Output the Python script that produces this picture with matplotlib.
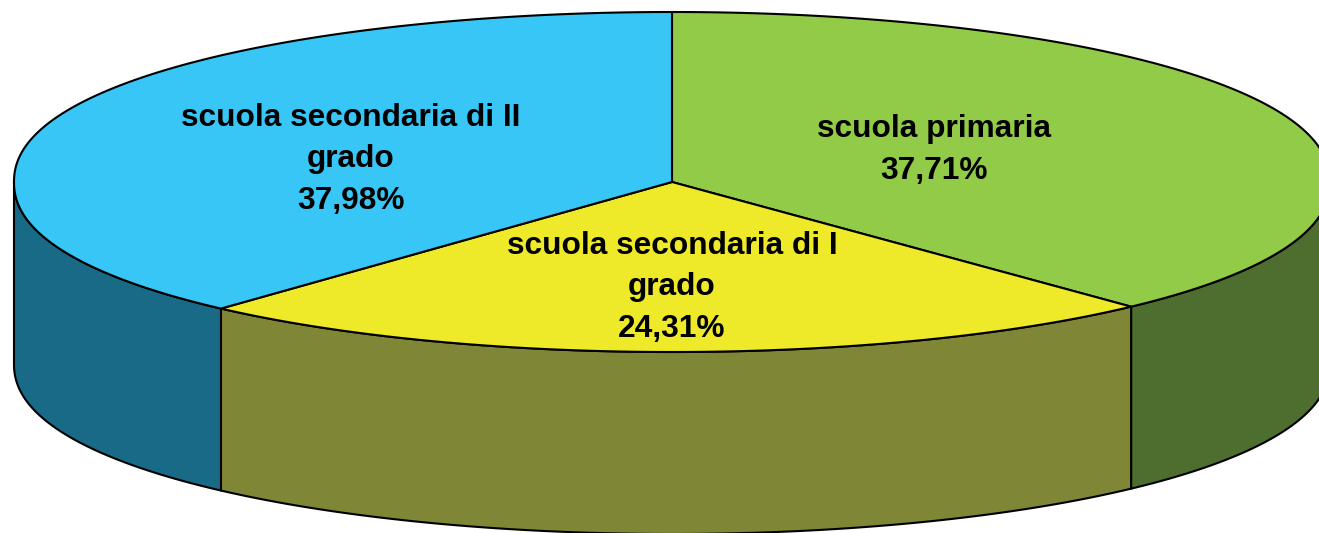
import numpy as np
from matplotlib import pyplot as plt
from matplotlib.patches import Polygon

# slice data, clockwise from 12 o'clock
labels = ["scuola primaria", "scuola secondaria di I\ngrado", "scuola secondaria di II\ngrado"]
values = [37.71, 24.31, 37.98]
value_labels = ["37,71%", "24,31%", "37,98%"]
top_colors = ["#92CB47", "#EEE929", "#38C6F6"]
side_colors = ["#4D6E2F", "#7F8636", "#186A86"]
label_pos = [(934, 150), (672, 287), (351, 159)]

# pie geometry in image pixels
cx, cy = 672, 182
rx, ry = 658, 170
depth = 182
# the outline of the original is a bit fuller than a true ellipse
fullness = 0.93


def ellipse_pts(a0, a1, y0=0):
    # angles in radians, 0 = east, growing towards the bottom of the image
    n = max(2, int(abs(a1 - a0) * 120))
    t = np.linspace(a0, a1, n)
    s = np.sin(t)
    return np.column_stack([cx + rx * np.cos(t), cy + y0 + ry * np.sign(s) * np.abs(s) ** fullness])


fig = plt.figure(figsize=(13.19, 5.33), dpi=100)
ax = fig.add_axes([0, 0, 1, 1])
ax.set_xlim(0, 1319)
ax.set_ylim(533, 0)
ax.axis("off")

edges = np.cumsum([0] + values) / 100 * 2 * np.pi - np.pi / 2

# side walls, only the front half of the pie shows them
for i in range(len(values)):
    a0 = max(edges[i], 0)
    a1 = min(edges[i + 1], np.pi)
    if a1 <= a0:
        continue
    front = ellipse_pts(a0, a1)
    back = ellipse_pts(a1, a0, depth)
    ax.add_patch(Polygon(np.vstack([front, back]), closed=True, facecolor=side_colors[i],
                         edgecolor="black", linewidth=1.5, joinstyle="round", clip_on=True))

# top faces
for i in range(len(values)):
    arc = ellipse_pts(edges[i], edges[i + 1])
    pts = np.vstack([[cx, cy], arc])
    ax.add_patch(Polygon(pts, closed=True, facecolor=top_colors[i],
                         edgecolor="black", linewidth=1.5, joinstyle="round", clip_on=True))

for i in range(len(values)):
    ax.text(label_pos[i][0], label_pos[i][1], labels[i] + "\n" + value_labels[i],
            ha="center", va="center", family="Liberation Sans", fontweight="bold",
            fontsize=22.8, color="black", linespacing=1.5)

fig.savefig("out.png", dpi=100)
plt.close(fig)
